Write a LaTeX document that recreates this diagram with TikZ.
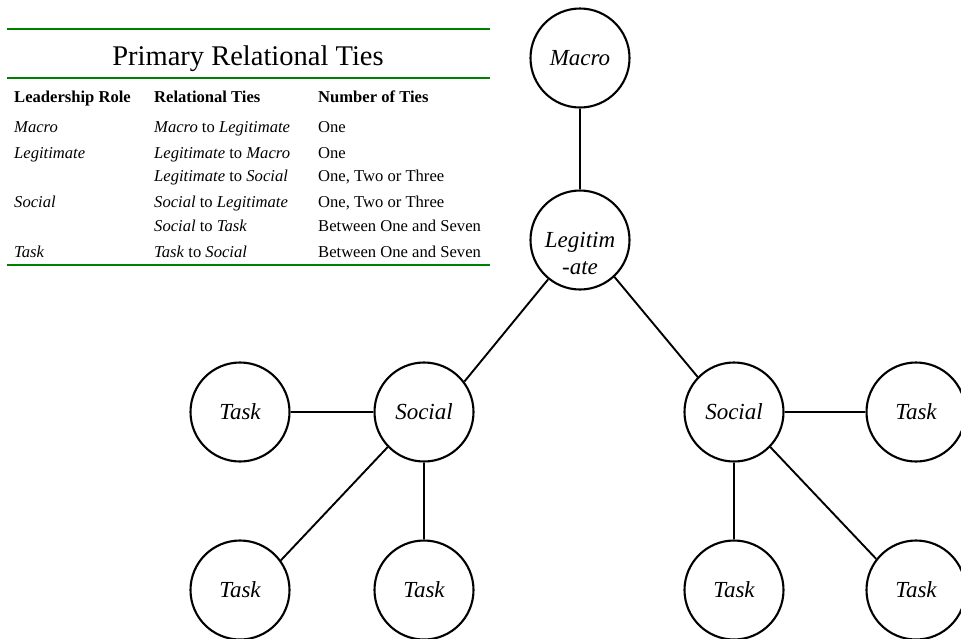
\documentclass[tikz,border=0pt]{standalone}
\usepackage{fontspec}
\setmainfont{Liberation Serif}
\definecolor{rulegreen}{RGB}{0,128,0}
\begin{document}
\begin{tikzpicture}[x=1pt,y=-1pt,
  role/.style={circle,draw,line width=2.1pt,minimum size=99pt,inner sep=0pt,
    font=\fontsize{23}{27}\selectfont\itshape,align=center},
  roletext/.style={inner sep=0pt,font=\fontsize{23}{27}\selectfont\itshape,align=center},
  tie/.style={line width=1.9pt},
  greenrule/.style={draw=rulegreen},
  cell/.style={anchor=base west,inner sep=0pt,font=\fontsize{16.6}{19}\selectfont},
  head/.style={cell,font=\fontsize{16.6}{19}\selectfont\bfseries}]
\useasboundingbox (0,0) rectangle (961,638);

% ---- table of primary relational ties ----
\coordinate (tl1) at (7,29);   \coordinate (tr1) at (490,29);
\coordinate (tl2) at (7,78);   \coordinate (tr2) at (490,78);
\coordinate (tl3) at (7,265);  \coordinate (tr3) at (490,265);
\draw[greenrule,line width=2pt] (tl1) -- (tr1);
\draw[greenrule,line width=1.4pt] (tl2) -- (tr2);
\draw[greenrule,line width=2pt] (tl3) -- (tr3);

\node[anchor=base,inner sep=0pt,font=\fontsize{28.5}{32}\selectfont] (title) at (248,65) {Primary Relational Ties};

\node[head] (h1) at (14,102) {Leadership Role};
\node[head] (h2) at (154,102) {Relational Ties};
\node[head] (h3) at (318,102) {Number of Ties};

\node[cell] (r1a) at (14,132) {\itshape Macro};
\node[cell] (r1b) at (154,132) {\textit{Macro} to \textit{Legitimate}};
\node[cell] (r1c) at (318,132) {One};

\node[cell] (r2a) at (14,158) {\itshape Legitimate};
\node[cell] (r2b) at (154,158) {\textit{Legitimate} to \textit{Macro}};
\node[cell] (r2c) at (318,158) {One};
\node[cell] (r3b) at (154,181) {\textit{Legitimate} to \textit{Social}};
\node[cell] (r3c) at (318,181) {One, Two or Three};

\node[cell] (r4a) at (14,207) {\itshape Social};
\node[cell] (r4b) at (154,207) {\textit{Social} to \textit{Legitimate}};
\node[cell] (r4c) at (318,207) {One, Two or Three};
\node[cell] (r5b) at (154,231) {\textit{Social} to \textit{Task}};
\node[cell] (r5c) at (318,231) {Between One and Seven};

\node[cell] (r6a) at (14,257) {\itshape Task};
\node[cell] (r6b) at (154,257) {\textit{Task} to \textit{Social}};
\node[cell] (r6c) at (318,257) {Between One and Seven};

% ---- leadership network ----
\node[role] (macro) at (580,58) {Macro};
\node[role] (legit) at (580,240) {};
\node[roletext] (legittext) at (580,253) {Legitim\\-ate};

\node[role] (socL) at (424,412) {Social};
\node[role] (socR) at (734,412) {Social};

\node[role] (taskLL) at (240,412) {Task};
\node[role] (taskLB) at (240,590) {Task};
\node[role] (taskLM) at (424,590) {Task};

\node[role] (taskRR) at (916,412) {Task};
\node[role] (taskRB) at (734,590) {Task};
\node[role] (taskRBR) at (916,590) {Task};

\draw[tie] (macro) -- (legit);
\draw[tie] (legit.231.7) -- (socL.37.8);
\draw[tie] (legit.313.5) -- (socR.136);
\draw[tie] (socL) -- (taskLL);
\draw[tie] (socL.224) -- (taskLB.36);
\draw[tie] (socL) -- (taskLM);
\draw[tie] (socR) -- (taskRR);
\draw[tie] (socR) -- (taskRB);
\draw[tie] (socR.316) -- (taskRBR.142.4);
\end{tikzpicture}
\end{document}
